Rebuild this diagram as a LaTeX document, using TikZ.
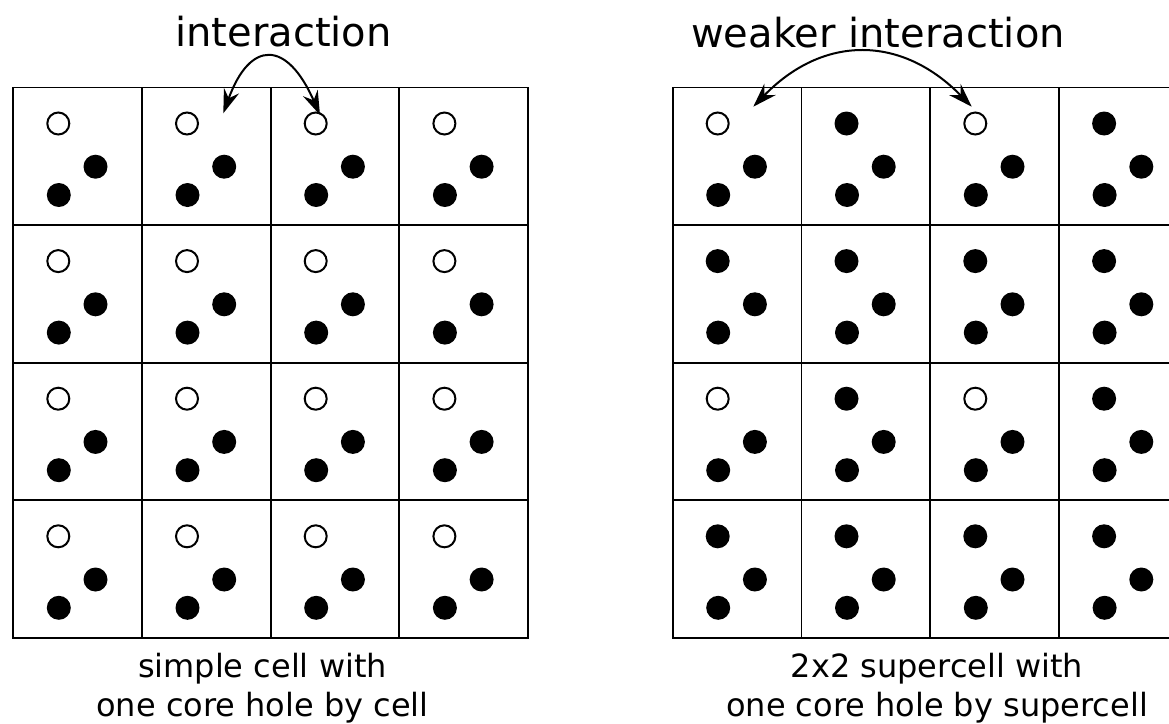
\documentclass[tikz,border=0pt]{standalone}
\usepackage{fontspec}
\setmainfont{DejaVu Sans}
\usetikzlibrary{arrows.meta}
\begin{document}
\begin{tikzpicture}[x=1pt,y=-1pt,
  gridline/.style={line width=1.9pt},
  hole/.style={circle, draw, line width=2pt, minimum size=22pt, inner sep=0pt, fill=white},
  atom/.style={circle, fill=black, minimum size=24pt, inner sep=0pt},
  tiphead/.style={Stealth[length=24pt,width=16pt,inset=8pt]},
  link/.style={line width=2pt, {Stealth[length=24pt,width=16pt,inset=8pt]}-{Stealth[length=24pt,width=16pt,inset=8pt]}},
  toplabel/.style={anchor=base, font=\fontsize{40}{48}\selectfont, inner sep=0pt},
  caption/.style={anchor=base, font=\fontsize{32}{40}\selectfont, inner sep=0pt}]
\clip (0,0) rectangle (1169,723);
% ---------- left grid ----------
\draw[gridline] (13.3,87.5) rectangle (528.1,638);
\foreach \i in {1,2,3} {
  \draw[gridline] ({13.3+\i*128.7},87.5) -- ({13.3+\i*128.7},638);
  \draw[gridline] (13.3,{87.5+\i*137.6}) -- (528.1,{87.5+\i*137.6});
}
\foreach \c in {0,...,3} \foreach \r in {0,...,3} {
  \node[hole] (L-\c-\r-t) at ({13.3+\c*128.7+45}, {87.5+\r*137.6+36}) {};
  \node[atom] (L-\c-\r-a) at ({13.3+\c*128.7+82.2}, {87.5+\r*137.6+79.2}) {};
  \node[atom] (L-\c-\r-b) at ({13.3+\c*128.7+45.5}, {87.5+\r*137.6+107.5}) {};
}
% ---------- right grid ----------
\draw[gridline] (672.7,87.5) rectangle (1187.9,638);
\foreach \i in {1,2,3} {
  \draw[gridline] ({672.7+\i*128.8},87.5) -- ({672.7+\i*128.8},638);
  \draw[gridline] (672.7,{87.5+\i*137.6}) -- (1187.9,{87.5+\i*137.6});
}
\foreach \c in {0,...,3} \foreach \r in {0,...,3} {
  \pgfmathtruncatemacro{\mixsum}{mod(\c,2)+mod(\r,2)}
  \ifnum\mixsum=0 \def\topkind{hole}\else\def\topkind{atom}\fi
  \node[\topkind] (R-\c-\r-t) at ({672.7+\c*128.8+45}, {87.5+\r*137.6+36}) {};
  \node[atom] (R-\c-\r-a) at ({672.7+\c*128.8+82.2}, {87.5+\r*137.6+79.2}) {};
  \node[atom] (R-\c-\r-b) at ({672.7+\c*128.8+45.5}, {87.5+\r*137.6+107.5}) {};
}
% ---------- labels ----------
\node[toplabel] (t1) at (283.5,46.7) {interaction};
\node[toplabel] (t2) at (878,47) {weaker interaction};
\node[caption] (c1a) at (262.5,677.3) {simple cell with};
\node[caption] (c1b) at (262.5,716.7) {one core hole by cell};
\node[caption] (c2a) at (937,677.3) {2x2 supercell with};
\node[caption] (c2b) at (937,716.7) {one core hole by supercell};
% ---------- arrows ----------
\coordinate (iL) at (223.3,113.3);
\coordinate (iR) at (320,115);
\draw[link] (iL) .. controls (250,39.7) and (287,39.7) .. (iR);
\coordinate (wL) at (753.3,106.7);
\coordinate (wR) at (971.7,106.7);
\draw[link] (wL) .. controls (823,34.7) and (901.5,34.7) .. (wR);
\end{tikzpicture}
\end{document}
